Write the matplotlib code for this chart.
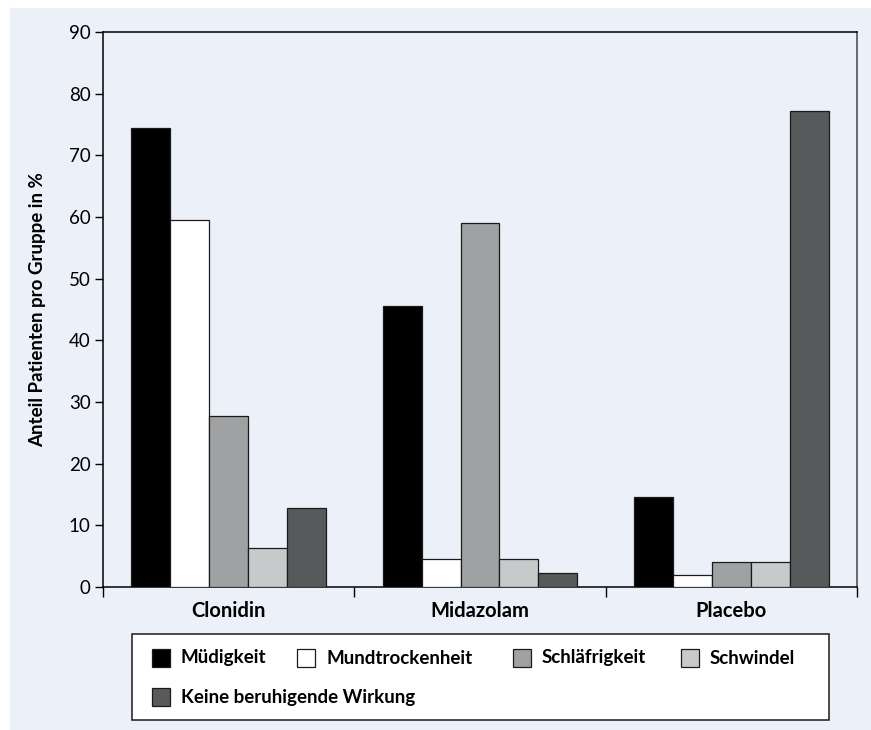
import matplotlib
matplotlib.use("Agg")
import matplotlib.pyplot as plt
from matplotlib.patches import Rectangle
import numpy as np

# === Data ===
groups = ["Clonidin", "Midazolam", "Placebo"]
series = ["Müdigkeit", "Mundtrockenheit", "Schläfrigkeit", "Schwindel",
          "Keine beruhigende Wirkung"]
muedigkeit = [74.4, 45.6, 14.6]
mundtrockenheit = [59.5, 4.5, 2.0]
schlaefrigkeit = [27.7, 59.0, 4.1]
schwindel = [6.3, 4.5, 4.1]
keine_wirkung = [12.8, 2.3, 77.2]
values = [muedigkeit, mundtrockenheit, schlaefrigkeit, schwindel, keine_wirkung]
colors = ["#000000", "#ffffff", "#a0a1a3", "#c8c9cb", "#58595b"]

plt.rcParams['font.family'] = ['Lato', 'DejaVu Sans']
BG = "#ecf0f8"
W, H = 871, 730

fig = plt.figure(figsize=(W / 100, H / 100), dpi=100)
fig.patch.set_facecolor("white")

def fx(px):
    return px / W

def fy(py):
    return 1 - py / H

# blue panel
fig.add_artist(Rectangle((fx(10), fy(730)), fx(871) - fx(10), fy(8) - fy(730),
                         transform=fig.transFigure, facecolor=BG,
                         edgecolor="none", zorder=0))

ax = fig.add_axes([fx(103), fy(587), fx(857) - fx(103), fy(32) - fy(587)])
ax.set_facecolor(BG)

x = np.arange(len(groups))
bw = 0.155
for i, (vals, c) in enumerate(zip(values, colors)):
    ax.bar(x + (i - 2) * bw, vals, width=bw, color=c, edgecolor="#1a1a1a",
           linewidth=0.9, zorder=3)

ax.set_xlim(-0.5, 2.5)
ax.set_ylim(0, 90)
ax.set_yticks(range(0, 91, 10))
ax.tick_params(axis="y", direction="out", length=6, width=1, labelsize=13.5,
               pad=3)
ax.set_xticks([-0.5, 0.5, 1.5, 2.5])
ax.set_xticklabels([])
ax.tick_params(axis="x", which="major", direction="out", length=7, width=1)
ax.set_xticks(x, minor=True)
ax.set_xticklabels(groups, minor=True, fontsize=14.5, fontweight="bold")
ax.tick_params(axis="x", which="minor", length=0, pad=10)
for s in ax.spines.values():
    s.set_linewidth(1.1)
    s.set_color("black")
ax.spines["right"].set_color("#444444")

ax.set_ylabel("Anteil Patienten pro Gruppe in %", fontsize=13.5,
              fontweight="bold", labelpad=16)

# === Legend (drawn by hand to keep the row layout) ===
fig.add_artist(Rectangle((fx(132), fy(720)), fx(829) - fx(132), fy(634) - fy(720),
                         transform=fig.transFigure, facecolor="white",
                         edgecolor="#1a1a1a", linewidth=1.1, zorder=2))
leg_pos = [(152, 658), (297, 658), (513, 658), (681, 658), (152, 697)]
for (lx, ly), name, c in zip(leg_pos, series, colors):
    fig.add_artist(Rectangle((fx(lx), fy(ly + 9)), fx(18), 18 / H,
                             transform=fig.transFigure, facecolor=c,
                             edgecolor="#1a1a1a", linewidth=0.9, zorder=3))
    fig.text(fx(lx + 29), fy(ly), name, fontsize=13.5, fontweight="bold",
             va="center", ha="left", zorder=4)

fig.savefig("out.png", dpi=100, facecolor=fig.get_facecolor())
